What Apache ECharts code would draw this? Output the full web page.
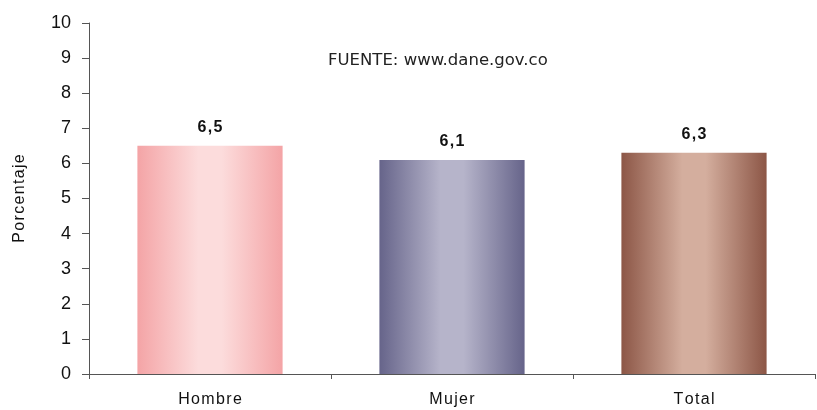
<!DOCTYPE html>
<html>
<head>
<meta charset="utf-8">
<script src="https://cdn.jsdelivr.net/npm/echarts@6/dist/echarts.min.js"></script>
</head>
<body style="margin:0">
<div id="main" style="width:817px;height:410px;"></div>
<script>
var categories = ['Hombre', 'Mujer', 'Total'];
var values = [6.5, 6.1, 6.3];
// edge / center colours of each bar
var edgeColors = ['#f4a4a6', '#66648a', '#8c5646'];
var midColors = ['#fcdcdc', '#b6b4ca', '#d4ae9e'];

var chart = echarts.init(document.getElementById('main'));

// spread letters a little, like the original
function spaced(s, sp) {
  return s.split('').join(sp);
}

function barGradient(i) {
  return new echarts.graphic.LinearGradient(0, 0, 1, 0, [
    {offset: 0, color: edgeColors[i]},
    {offset: 0.42, color: midColors[i]},
    {offset: 0.58, color: midColors[i]},
    {offset: 1, color: edgeColors[i]}
  ]);
}

var barData = values.map(function (v, i) {
  return {value: v, itemStyle: {color: barGradient(i)}};
});

chart.setOption({
  animation: false,
  grid: {left: 89, right: 2, top: 23, bottom: 36, outerBoundsMode: 'none', containLabel: false},
  graphic: [{
    type: 'text', left: 328, top: 52,
    style: {text: 'FUENTE: www.dane.gov.co', font: '16.5px "DejaVu Sans"', fill: '#222'}
  }],
  xAxis: {
    type: 'category',
    data: categories,
    axisLine: {lineStyle: {color: '#555'}},
    axisTick: {show: true, lineStyle: {color: '#555'}},
    axisLabel: {
      color: '#111', fontSize: 16, fontFamily: 'Liberation Sans', margin: 18,
      formatter: function (v) { return spaced(v, '\u200a'); }
    }
  },
  yAxis: {
    type: 'value', min: 0, max: 10, interval: 1,
    name: spaced('Porcentaje', '\u200a'), nameLocation: 'middle', nameGap: 61, nameRotate: 90,
    nameTextStyle: {color: '#111', fontSize: 16, fontFamily: 'Liberation Sans'},
    axisLine: {show: true, lineStyle: {color: '#555'}},
    axisTick: {show: true, length: 7, lineStyle: {color: '#555'}},
    axisLabel: {color: '#111', fontSize: 18, fontFamily: 'Liberation Sans', margin: 18},
    splitLine: {show: false}
  },
  series: [{
    type: 'bar',
    data: barData,
    barCategoryGap: '40%',
    label: {
      show: true, position: 'top', distance: 10,
      formatter: function (p) { return String(p.value).replace('.', '\u200a,\u200a'); },
      color: '#111', fontSize: 16, fontWeight: 'bold', fontFamily: 'Liberation Sans'
    }
  }]
});
</script>
</body>
</html>
